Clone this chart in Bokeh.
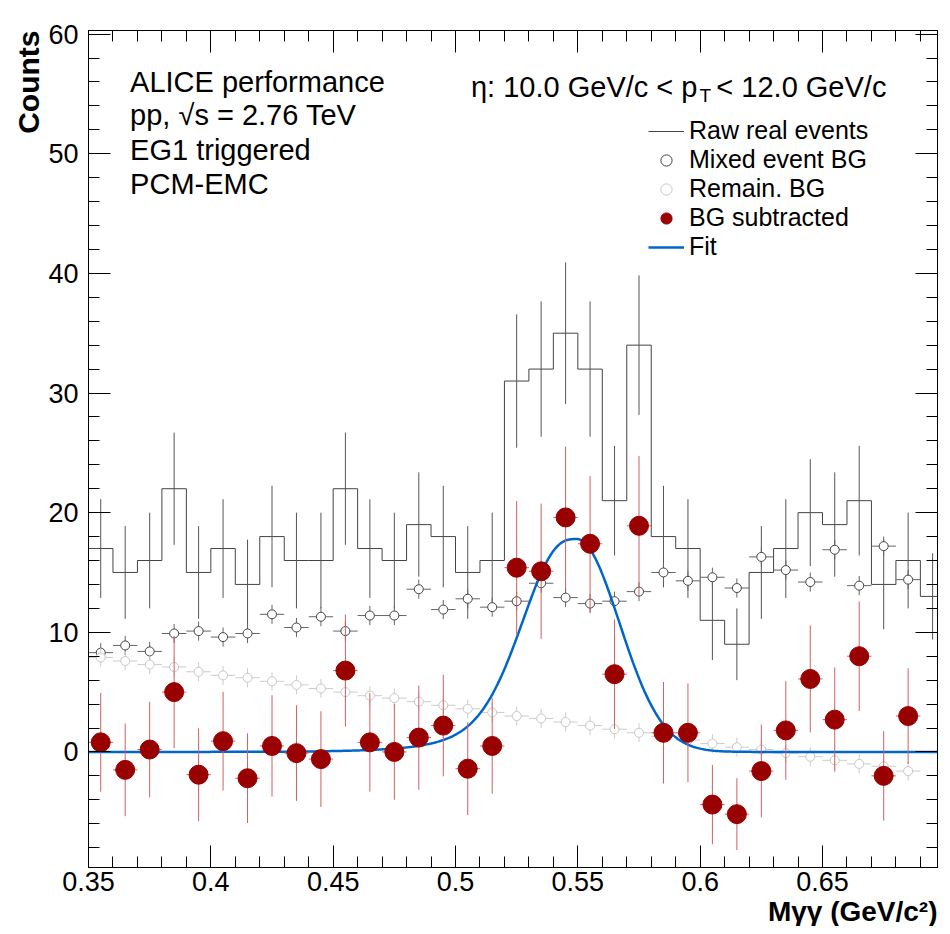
import numpy as np
from bokeh.plotting import figure
from bokeh.models import (FixedTicker, LinearAxis, Legend, LegendItem, Label, Range1d, Title)
from bokeh.embed import file_html
from bokeh.resources import INLINE

# bin centres (GeV/c^2), bin width 0.01
mass = [0.355, 0.365, 0.375, 0.385, 0.395, 0.405, 0.415, 0.425, 0.435, 0.445,
        0.455, 0.465, 0.475, 0.485, 0.495, 0.505, 0.515, 0.525, 0.535, 0.545,
        0.555, 0.565, 0.575, 0.585, 0.595, 0.605, 0.615, 0.625, 0.635, 0.645,
        0.655, 0.665, 0.675, 0.685, 0.695]
raw = [17, 15, 16, 22, 15, 17, 14, 18, 16, 16, 22, 17, 16, 19, 18, 15, 16, 31, 32, 35,
       32, 21, 34, 18, 17, 11, 9, 15, 17, 20, 19, 21, 14, 16, 13]
mixed = [8.3, 8.9, 8.4, 9.9, 10.1, 9.6, 9.9, 11.5, 10.4, 11.3, 10.1, 11.4, 11.4, 13.6,
         11.9, 12.8, 12.1, 12.6, 14.1, 12.9, 12.4, 12.6, 13.4, 15.0, 14.3, 14.6, 13.7,
         16.3, 15.2, 14.2, 16.9, 13.9, 17.2, 14.4]
remain = [7.9, 7.6, 7.3, 7.1, 6.7, 6.4, 6.2, 5.9, 5.6, 5.3, 5.0, 4.7, 4.5, 4.2, 3.9,
          3.6, 3.3, 3.0, 2.8, 2.5, 2.2, 1.9, 1.6, 1.3, 1.0, 0.7, 0.4, 0.2, -0.1, -0.4,
          -0.7, -1.0, -1.2, -1.6]
subtracted = [0.8, -1.5, 0.2, 5.0, -1.9, 0.9, -2.2, 0.5, -0.1, -0.6, 6.8, 0.8, 0.0, 1.2,
              2.2, -1.4, 0.5, 15.4, 15.1, 19.6, 17.4, 6.5, 18.9, 1.6, 1.6, -4.4, -5.2,
              -1.6, 1.8, 6.1, 2.7, 8.0, -2.0, 3.0]
bg_err = 0.8

# fit parameters (gaussian with exponential low-mass tail)
fit_amp, fit_mean, fit_sigma, fit_lambda = 17.8, 0.5495, 0.0175, 0.018

half = 0.005
n = len(mixed)
mx = np.array(mass[:n])
raw_a = np.array(raw, dtype=float)
raw_err = np.sqrt(raw_a)
sub_err = np.sqrt(raw_a[:n])

p = figure(width=942, height=926, output_backend="svg", toolbar_location=None,
           x_range=Range1d(0.35, 0.697), y_range=Range1d(-9.66, 60.3),
           min_border_left=88, min_border_right=5, min_border_top=30, min_border_bottom=0)
p.grid.visible = False
p.outline_line_color = "black"
p.background_fill_color = "white"

font = "Liberation Sans"
for ax in (p.xaxis[0], p.yaxis[0]):
    ax.major_label_text_font = font
    ax.major_label_text_font_size = "27px"
    ax.major_label_text_color = "black"
    ax.major_tick_in = 22
    ax.major_tick_out = 0
    ax.minor_tick_in = 11
    ax.minor_tick_out = 0
    ax.axis_line_color = "black"
    ax.major_tick_line_color = "black"
    ax.minor_tick_line_color = "black"
p.xaxis[0].ticker = FixedTicker(ticks=[0.35, 0.4, 0.45, 0.5, 0.55, 0.6, 0.65],
                                minor_ticks=list(np.round(np.arange(0.35, 0.70, 0.01), 3)))
p.xaxis[0].major_label_overrides = {0.35: "0.35", 0.4: "0.4", 0.45: "0.45", 0.5: "0.5",
                                   0.55: "0.55", 0.6: "0.6", 0.65: "0.65"}
p.xaxis[0].major_label_standoff = 4
p.yaxis[0].ticker = FixedTicker(ticks=[0, 10, 20, 30, 40, 50, 60],
                                minor_ticks=list(range(-8, 61, 2)))
p.yaxis[0].major_label_standoff = 10

p.add_layout(Title(text="Mγγ (GeV/c²)", align="right", text_font=font,
                   text_font_size="28px", text_font_style="bold", text_color="black",
                   standoff=0, offset=0), "below")
p.add_layout(Title(text="Counts", align="right", text_font=font,
                   text_font_size="30px", text_font_style="bold", text_color="black",
                   standoff=2, offset=0), "left")

for side, ticker in (("above", p.xaxis[0].ticker), ("right", p.yaxis[0].ticker)):
    a = LinearAxis(ticker=ticker, major_label_text_font_size="0px",
                   major_tick_in=22, major_tick_out=0, minor_tick_in=11, minor_tick_out=0)
    p.add_layout(a, side)
p.min_border_top = 30
p.min_border_right = 5

# raw histogram
edges = list(np.round(np.array(mass) - half, 3)) + [0.705]
steps = raw + [raw[-1]]
p.step(edges, steps, mode="after", line_color="#444444", line_width=1)
p.segment(mass, raw_a - raw_err, mass, raw_a + raw_err, line_color="#555555", line_width=1)

# mixed event BG
p.segment(mx - half, mixed, mx + half, mixed, line_color="#666666")
p.segment(mx, np.array(mixed) - bg_err, mx, np.array(mixed) + bg_err, line_color="#666666")
mix_r = p.scatter(mx, mixed, size=9, marker="circle", fill_color="white", line_color="#444444")

# remaining BG
p.segment(mx - half, remain, mx + half, remain, line_color="#cccccc")
p.segment(mx, np.array(remain) - bg_err, mx, np.array(remain) + bg_err, line_color="#cccccc")
rem_r = p.scatter(mx, remain, size=9, marker="circle", fill_color="white", line_color="#c8c8c8")

# fit
xf = np.linspace(0.35, 0.697, 400)
g = np.exp(-0.5 * ((xf - fit_mean) / fit_sigma) ** 2)
tail = np.where(xf < fit_mean, np.exp((xf - fit_mean) / fit_lambda) * (1 - g), 0.0)
fit_r = p.line(xf, fit_amp * (g + tail), line_color="#0066cc", line_width=2.5)

# BG subtracted
p.segment(mx - half, subtracted, mx + half, subtracted, line_color="#d06060")
p.segment(mx, np.array(subtracted) - sub_err, mx, np.array(subtracted) + sub_err,
          line_color="#d06060")
sub_r = p.scatter(mx, subtracted, size=19, marker="circle", fill_color="#990000",
                  line_color="#990000")

raw_leg = p.line([0.36], [100], line_color="#444444")
legend = Legend(items=[LegendItem(label="Raw real events", renderers=[raw_leg]),
                       LegendItem(label="Mixed event BG", renderers=[mix_r]),
                       LegendItem(label="Remain. BG", renderers=[rem_r]),
                       LegendItem(label="BG subtracted", renderers=[sub_r]),
                       LegendItem(label="Fit", renderers=[fit_r])],
                location=(560, 606), border_line_color=None, background_fill_alpha=0,
                label_text_font=font, label_text_font_size="25px", label_height=28,
                label_text_color="black",
                glyph_height=28, glyph_width=36, spacing=0, padding=0, margin=0,
                label_standoff=5)
p.add_layout(legend, "center")

def lab(x, y, t, size="29px", style="normal", align="left"):
    p.add_layout(Label(x=x, y=y, text=t, text_font=font, text_font_size=size,
                       text_font_style=style, text_align=align, text_baseline="middle",
                       text_color="black"))

# info texts
lab(0.367, 55.96, "ALICE performance")
lab(0.367, 53.2, "pp, √s = 2.76 TeV")
lab(0.367, 50.3, "EG1 triggered")
lab(0.367, 47.5, "PCM-EMC")
lab(0.5989, 55.6, "η: 10.0 GeV/c < p", align="right")
lab(0.5997, 54.9, "T", size="19px")
lab(0.6066, 55.6, "< 12.0 GeV/c")

open("out.html", "w").write(file_html(p, INLINE))
